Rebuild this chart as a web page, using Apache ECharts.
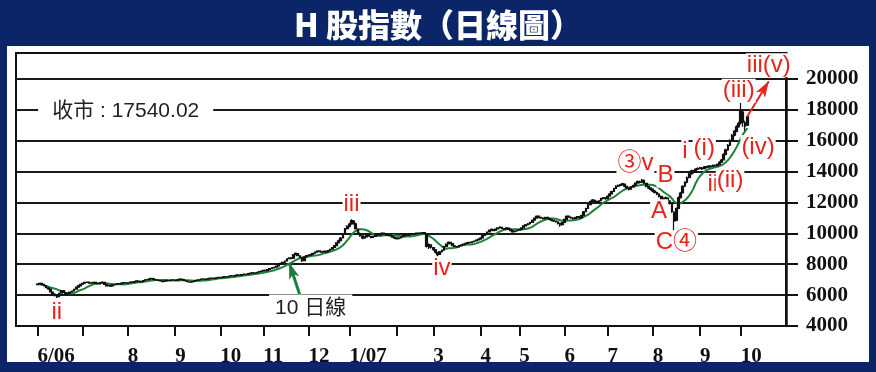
<!DOCTYPE html>
<html><head><meta charset="utf-8">
<script src="https://cdn.jsdelivr.net/npm/echarts@6/dist/echarts.min.js"></script>
<style>
html,body{margin:0;padding:0;background:#0b2568;}
#wrap{position:relative;width:876px;height:372px;background:#0b2568;overflow:hidden;}
#panel{position:absolute;left:7px;top:46px;width:862px;height:316px;background:#fff;}
#chart{position:absolute;left:0;top:0;width:876px;height:372px;}
</style></head><body>
<div id="wrap"><div id="panel"></div><div id="chart"></div></div>
<script>
// ---- axis categories / tick labels ----
const monthKeys = ['2006-06','2006-07','2006-08','2006-09','2006-10','2006-11','2006-12','2007-01','2007-02','2007-03','2007-04','2007-05','2007-06','2007-07','2007-08','2007-09','2007-10'];
const monthLabels = ['6/06','','8','9','10','11','12','1/07','','3','4','5','6','7','8','9','10'];
const yTicks = [4000,6000,8000,10000,12000,14000,16000,18000,20000];

// ---- daily bars: [open, close, low, high] ----
const jun06 = [[6680,6720,6650,6760],[6730,6760,6700,6800],[6770,6690,6660,6790],[6700,6620,6580,6720],[6610,6480,6450,6640],[6470,6400,6350,6500],[6390,6210,6180,6400],[6200,6050,6010,6230],[6060,5960,5920,6090],[5950,5880,5820,5990],[5900,6120,5880,6140],[6130,6300,6100,6330],[6290,6180,6150,6310],[6170,6050,6020,6200],[6060,6090,6000,6130],[6100,6200,6070,6230],[6210,6260,6170,6290],[6270,6380,6250,6400],[6390,6520,6370,6540],[6520,6610,6500,6640],[6600,6700,6580,6720]];
const jul06 = [[6710,6760,6690,6790],[6770,6820,6740,6850],[6830,6850,6790,6890],[6840,6780,6750,6860],[6770,6800,6740,6830],[6810,6830,6780,6860],[6820,6760,6730,6840],[6750,6720,6680,6780],[6730,6800,6700,6820],[6810,6840,6780,6870],[6830,6700,6670,6850],[6690,6600,6560,6710],[6610,6640,6570,6670],[6630,6580,6540,6660],[6590,6660,6560,6690],[6670,6700,6640,6730],[6710,6750,6680,6780],[6740,6720,6690,6770],[6730,6780,6710,6810],[6790,6810,6760,6840],[6800,6790,6760,6830]];
const aug06 = [[6780,6800,6750,6830],[6810,6850,6790,6880],[6860,6830,6800,6880],[6840,6870,6810,6900],[6880,6920,6850,6950],[6910,6900,6870,6940],[6890,6860,6830,6920],[6870,6940,6850,6970],[6950,6990,6920,7020],[6980,7010,6960,7040],[7020,7060,6990,7090],[7070,7080,7030,7120],[7070,7020,6990,7090],[7010,6980,6950,7040],[6970,6950,6910,7000],[6940,6920,6880,6970],[6910,6880,6840,6940],[6890,6910,6860,6940],[6920,6950,6890,6980],[6940,6930,6900,6970],[6940,6970,6910,7000],[6980,6990,6950,7020]];
const sep06 = [[6980,6960,6930,7010],[6970,6990,6940,7020],[7000,7040,6970,7070],[7030,7010,6980,7060],[7000,6950,6920,7030],[6940,6900,6870,6960],[6890,6860,6820,6920],[6850,6840,6800,6880],[6850,6880,6820,6910],[6890,6930,6860,6960],[6940,6960,6910,6990],[6970,6990,6940,7020],[7000,7030,6970,7060],[7040,7050,7000,7090],[7040,7020,6990,7070],[7030,7060,7000,7090],[7070,7090,7040,7120],[7100,7110,7060,7140],[7100,7080,7050,7130],[7090,7120,7060,7150],[7130,7150,7100,7180]];
const oct06 = [[7140,7130,7100,7180],[7140,7170,7110,7200],[7180,7200,7150,7230],[7190,7180,7140,7220],[7190,7230,7170,7260],[7240,7260,7210,7290],[7250,7240,7200,7280],[7250,7280,7220,7310],[7290,7310,7260,7340],[7300,7290,7250,7330],[7300,7330,7270,7360],[7340,7360,7310,7390],[7350,7340,7300,7380],[7350,7390,7320,7420],[7400,7420,7370,7450],[7430,7450,7400,7480],[7440,7430,7390,7470],[7440,7480,7420,7510],[7490,7520,7460,7550],[7530,7560,7500,7600]];
const nov06 = [[7570,7600,7540,7640],[7610,7580,7540,7630],[7590,7650,7570,7680],[7660,7720,7630,7750],[7730,7760,7700,7800],[7770,7800,7740,7840],[7810,7880,7790,7910],[7890,7980,7870,8010],[7990,8060,7960,8100],[8070,8120,8030,8160],[8130,8200,8100,8240],[8210,8350,8190,8380],[8360,8400,8320,8450],[8410,8380,8330,8440],[8390,8620,8370,8660],[8630,8700,8590,8760],[8690,8560,8520,8710],[8550,8450,8400,8580],[8440,8230,8150,8470],[8240,8480,8220,8510],[8490,8560,8450,8600]];
const dec06 = [[8570,8580,8520,8630],[8590,8620,8550,8660],[8630,8700,8600,8740],[8710,8780,8680,8820],[8790,8850,8750,8900],[8860,8820,8780,8890],[8810,8790,8740,8840],[8800,8840,8770,8880],[8850,8800,8760,8870],[8810,8880,8790,8920],[8890,8960,8860,9000],[8970,9080,8940,9120],[9090,9200,9060,9250],[9210,9380,9180,9420],[9390,9520,9350,9580],[9530,9700,9500,9760],[9710,9950,9680,10000],[9960,10300,9930,10350],[10310,10450,10250,10520]];
const jan07 = [[10460,10600,10400,10680],[10620,10820,10560,10920],[10800,10650,10580,10860],[10620,10300,10250,10680],[10280,10000,9950,10320],[9980,9850,9780,10050],[9840,9700,9620,9880],[9710,9760,9650,9820],[9770,9900,9740,9950],[9910,9820,9780,9960],[9810,9720,9680,9850],[9730,9800,9700,9840],[9810,9880,9780,9920],[9890,9950,9860,10000],[9960,9910,9870,9990],[9920,10000,9900,10050],[10010,9960,9920,10040],[9950,9880,9840,9980],[9870,9900,9830,9940],[9910,9840,9800,9940],[9830,9760,9720,9860],[9750,9700,9640,9780]];
const feb07 = [[9690,9650,9600,9740],[9660,9700,9620,9740],[9710,9780,9680,9820],[9790,9850,9760,9890],[9860,9900,9830,9940],[9910,9880,9840,9940],[9890,9950,9860,9990],[9960,9920,9880,9990],[9930,9970,9900,10010],[9980,10010,9950,10050],[10020,9980,9940,10050],[9990,10020,9960,10060],[10030,10040,9990,10090],[10050,9980,9930,10080],[9940,9150,9080,9960],[9100,9280,8980,9350],[9250,9100,9020,9300]];
const mar07 = [[9080,8950,8880,9120],[8930,8780,8700,8980],[8760,8620,8500,8800],[8640,8800,8600,8850],[8810,8900,8760,8950],[8920,9150,8900,9190],[9160,9300,9120,9350],[9310,9420,9280,9470],[9410,9350,9300,9450],[9340,9200,9160,9370],[9190,9150,9100,9230],[9140,9120,9070,9180],[9130,9200,9100,9240],[9210,9250,9170,9290],[9260,9300,9220,9340],[9310,9350,9280,9390],[9360,9400,9320,9440],[9410,9380,9340,9440],[9390,9450,9360,9490],[9460,9500,9420,9540],[9510,9560,9480,9600],[9570,9620,9540,9660]];
const apr07 = [[9630,9700,9600,9740],[9710,9850,9690,9890],[9860,9950,9830,9990],[9960,10080,9930,10120],[10090,10200,10050,10250],[10210,10260,10160,10310],[10250,10180,10130,10290],[10190,10280,10160,10320],[10290,10350,10250,10400],[10360,10400,10310,10460],[10390,10320,10280,10420],[10310,10280,10230,10350],[10290,10350,10260,10390],[10340,10250,10210,10380],[10240,10180,10130,10280],[10170,10100,10040,10210],[10110,10150,10070,10190],[10160,10200,10120,10240]];
const may07 = [[10210,10250,10170,10300],[10260,10350,10220,10390],[10360,10480,10330,10520],[10490,10550,10450,10600],[10560,10620,10510,10670],[10630,10700,10580,10750],[10710,10850,10680,10900],[10860,10980,10820,11030],[10990,11100,10950,11160],[11110,11050,11000,11150],[11040,11000,10950,11080],[10990,10950,10900,11040],[10960,11020,10920,11070],[11030,10980,10930,11060],[10970,10900,10850,11010],[10890,10850,10790,10940],[10840,10800,10740,10880],[10790,10750,10690,10840],[10740,10650,10580,10780],[10640,10550,10420,10680],[10560,10700,10520,10750]];
const jun07 = [[10710,10900,10680,10950],[10910,11100,10880,11160],[11110,11050,11000,11160],[11040,11000,10940,11090],[10990,10950,10880,11040],[10960,11020,10920,11070],[11030,11080,10990,11130],[11070,11000,10950,11110],[11010,11150,10980,11200],[11160,11400,11130,11450],[11410,11600,11380,11660],[11610,11850,11580,11900],[11860,12050,11820,12120],[12060,12150,12000,12220],[12140,12080,12020,12190],[12070,12000,11930,12110],[12010,12100,11970,12150],[12110,12250,12080,12300],[12260,12300,12200,12360],[12290,12250,12180,12340]];
const jul07 = [[12260,12400,12220,12450],[12410,12550,12370,12610],[12560,12700,12520,12760],[12710,12900,12680,12950],[12910,13050,12870,13110],[13060,13100,13000,13170],[13110,13150,13060,13220],[13160,13200,13100,13280],[13190,13050,12990,13230],[13040,12950,12890,13090],[12940,12850,12780,12990],[12860,13000,12820,13060],[13010,13100,12970,13160],[13110,13250,13080,13300],[13260,13350,13220,13420],[13340,13300,13230,13400],[13310,13450,13270,13520],[13440,13250,13190,13480],[13240,13050,12980,13280],[13040,12950,12880,13090],[12940,12850,12780,12990]];
const aug07 = [[12860,12750,12680,12900],[12740,12650,12580,12800],[12640,12550,12470,12700],[12540,12400,12330,12590],[12390,12200,12120,12430],[12190,12250,12100,12330],[12260,12300,12200,12380],[12290,12100,12030,12340],[12090,11950,11870,12140],[11940,11400,11330,11980],[11380,10800,10150,11420],[10850,11600,10800,11680],[11620,12300,11580,12380],[12320,12600,12250,12680],[12620,13050,12580,13120],[13070,13300,13000,13380],[13310,13600,13250,13680],[13620,13850,13550,13930],[13860,14050,13800,14120],[14040,13950,13880,14100],[13960,14150,13920,14220],[14160,14200,14100,14280]];
const sep07 = [[14210,14250,14150,14320],[14240,14180,14110,14290],[14190,14300,14150,14360],[14310,14280,14220,14360],[14290,14350,14250,14410],[14360,14320,14260,14410],[14330,14400,14290,14460],[14410,14380,14320,14460],[14390,14450,14340,14520],[14460,14600,14420,14670],[14610,14750,14560,14820],[14760,15100,14720,15180],[15110,15400,15060,15480],[15410,15700,15350,15780],[15710,16000,15650,16090],[16010,16350,15950,16430],[16360,16600,16290,16700],[16610,16900,16550,17000],[16910,17100,16840,17220]];
const oct07 = [[17150,17900,17050,18450],[17850,17200,16900,17950],[17150,16950,16650,17300],[17000,17540,16950,17620]];

// 10-day average for the first days (earlier closes not shown)
const ma10Lead = [6730,6700,6670,6630,6590,6550,6500,6460,6420];

// annotations: [text, trading-day index, value]
const redNotes = [
  ['ii',9,4910],['iii',146,11880],['iv',188,7730],['③v',278,14560],['A',289,11430],['B',292,13740],
  ['C④',297,9420],['i',301,15300],['(i)',310,15480],['ii',314,13140],['(ii)',322,13450],
  ['(iii)',326,19230],['(iv)',335,15600],['iii(v)',340,20880]
];
const closeNote = ['收市 : 17540.02',41,17930];
const maNote = ['10 日線',127,5170];
const redArrow = [[330,17570],[340,19850]];
const greenArrow = [[122,6000],[117,8090]];

// ---- build ----
const months = [jun06,jul06,aug06,sep06,oct06,nov06,dec06,jan07,feb07,mar07,apr07,may07,jun07,jul07,aug07,sep07,oct07];
const padBefore = 10, padAfter = 18;
const categories = [], candleData = [], closes = [], tickAt = {};
for (let i=0;i<padBefore;i++){categories.push('pre'+i);candleData.push('-');}
months.forEach((arr,m)=>{
  arr.forEach((q,j)=>{
    const idx = categories.length;
    if (j===0) tickAt[idx] = monthLabels[m];
    categories.push(monthKeys[m]+'-'+(j+1));
    candleData.push(q.slice());
    closes.push(q[1]);
  });
});
for (let i=0;i<padAfter;i++){categories.push('post'+i);candleData.push('-');}
const maData = categories.map(()=> '-');
closes.forEach((c,i)=>{
  let v;
  if (i<9) v = ma10Lead[i];
  else { let s=0; for(let k=i-9;k<=i;k++) s+=closes[k]; v = Math.round(s/10); }
  maData[i+padBefore] = v;
});
const cat = d => categories[d+padBefore];

const RED = '#e8231b';
const markPoints = redNotes.map(([t,d,v])=>({
  coord:[cat(d),v], value:t,
  label:{formatter:t, color:RED, fontSize:24, fontFamily:'Liberation Sans, Arial, Noto Sans CJK TC', backgroundColor:'#fff', padding:[0,1]}
}));
markPoints.push({coord:[cat(closeNote[1]),closeNote[2]], value:closeNote[0],
  label:{formatter:closeNote[0], color:'#231f20', fontSize:21, fontFamily:'Liberation Sans, Noto Sans CJK TC', backgroundColor:'#fff', padding:[2,14]}});
markPoints.push({coord:[cat(maNote[1]),maNote[2]], value:maNote[0],
  label:{formatter:maNote[0], color:'#231f20', fontSize:21, fontFamily:'Liberation Sans, Noto Sans CJK TC', backgroundColor:'#fff', padding:[4,6,2,6]}});

const chart = echarts.init(document.getElementById('chart'), null, {renderer:'canvas'});
chart.setOption({
  animation:false,
  backgroundColor:'transparent',
  title:{text:'H 股指數（日線圖）', left:'center', top:4,
    textStyle:{color:'#fff', fontSize:32, fontWeight:900, fontFamily:'Noto Sans CJK TC'}},
  grid:{left:16, right:90, top:53, bottom:46, show:true, borderColor:'#111', borderWidth:2, backgroundColor:'transparent'},
  xAxis:{type:'category', data:categories, boundaryGap:false,
    axisLine:{show:true, lineStyle:{color:'#111', width:2}},
    axisTick:{show:true, length:10, lineStyle:{color:'#111', width:2}, interval:(i)=> tickAt[i]!==undefined},
    axisLabel:{show:true, interval:(i)=> !!tickAt[i], formatter:(v,i)=> tickAt[i]||'', align:'left', margin:20,
      fontFamily:'Liberation Serif, Times New Roman, serif', fontWeight:'bold', fontSize:21, color:'#111'},
    splitLine:{show:false}},
  yAxis:{type:'value', position:'right', min:4000, max:21680, interval:2000,
    axisLine:{show:true, lineStyle:{color:'#111', width:2.5}},
    axisTick:{show:true, length:12, lineStyle:{color:'#111', width:2}, customValues:yTicks},
    axisLabel:{customValues:yTicks, formatter:v=>String(v), margin:20, align:'left',
      fontFamily:'Liberation Serif, Times New Roman, serif', fontWeight:'bold', fontSize:21, color:'#111'},
    splitLine:{show:true, lineStyle:{color:'#1a1a1a', width:2}}},
  series:[
    {type:'line', name:'10日線', data:maData, symbol:'none', smooth:false, z:3,
      lineStyle:{color:'#1f8238', width:2}, itemStyle:{color:'#1f8238'}},
    {type:'candlestick', name:'H股指數', data:candleData, barWidth:2.2, z:4,
      itemStyle:{color:'#111', color0:'#111', borderColor:'#111', borderColor0:'#111', borderWidth:1.2},
      markPoint:{symbol:'circle', symbolSize:0, itemStyle:{color:'rgba(0,0,0,0)'}, silent:true,
        label:{show:true, position:'inside'}, data:markPoints, z:6},
      markLine:{silent:true, symbol:['none','arrow'], label:{show:false}, z:5,
        data:[
          [{coord:[cat(redArrow[0][0]),redArrow[0][1]], lineStyle:{color:RED, width:2, type:'solid'}, symbolSize:[0,10]},
           {coord:[cat(redArrow[1][0]),redArrow[1][1]]}],
          [{coord:[cat(greenArrow[0][0]),greenArrow[0][1]], lineStyle:{color:'#1b7f3a', width:3, type:'solid'}, symbolSize:[0,16]},
           {coord:[cat(greenArrow[1][0]),greenArrow[1][1]]}]
        ]}
    }
  ]
});
</script></body></html>
